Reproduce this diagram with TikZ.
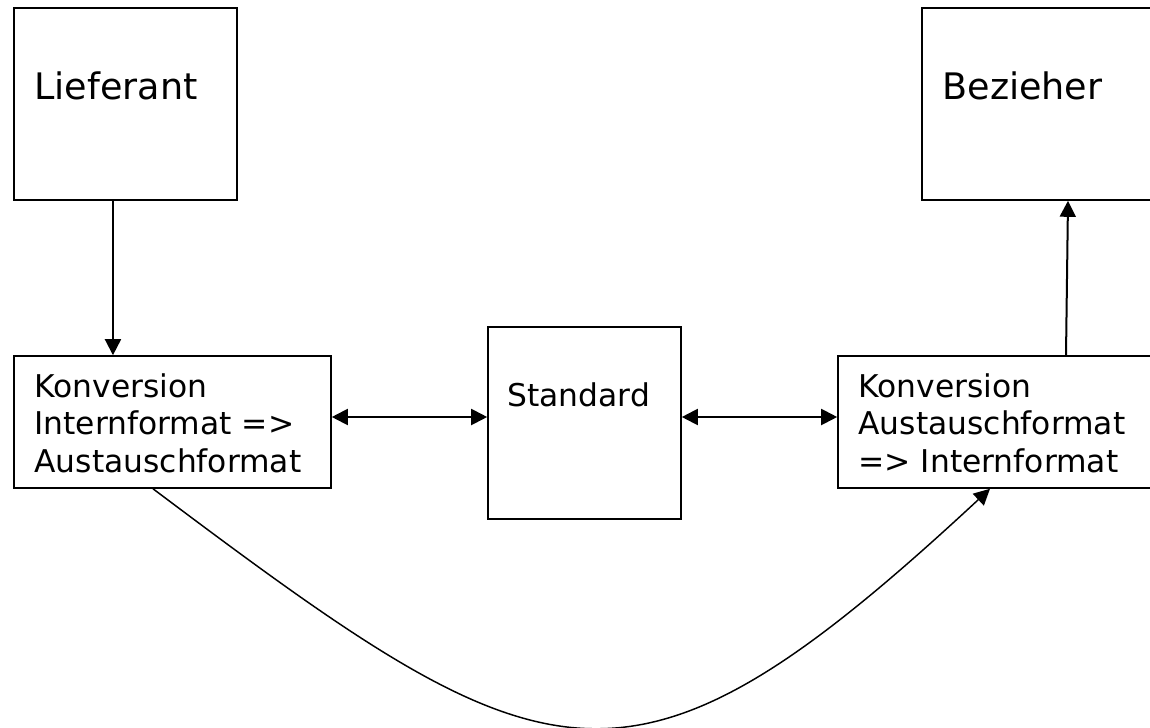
\documentclass[tikz,border=0pt]{standalone}
\usepackage{fontspec}
\setmainfont{DejaVu Sans}
\usetikzlibrary{arrows.meta,calc}

\begin{document}
\begin{tikzpicture}[x=0.75pt,y=-0.75pt,
	box/.style={draw, line width=1.2pt, inner sep=0pt},
	small/.style={inner sep=0pt, anchor=base west, align=left, font=\fontsize{23.5pt}{28pt}\selectfont},
	big/.style={inner sep=0pt, anchor=base west, font=\fontsize{27.4pt}{32pt}\selectfont},
	arr/.style={line width=1.5pt, -{Triangle[length=12pt,width=12pt]}},
	dbl/.style={line width=1.5pt, {Triangle[length=12pt,width=12pt]}-{Triangle[length=12pt,width=12pt]}},
	curve/.style={line width=1.1pt, -{Triangle[length=12pt,width=12pt]}}]

	% ---- frame

	\useasboundingbox (0,0) rectangle (1150,728);
	\clip (0,0) rectangle (1150,728);

	% ---- boxes

	\node[box, minimum width=167.25pt, minimum height=144pt] (lief) at (125.5,104) {};
	\node[box, minimum width=237.75pt, minimum height=99pt] (konvL) at (172.5,422) {};
	\node[box, minimum width=144.75pt, minimum height=144pt] (std) at (584.5,423) {};
	\node[box, minimum width=240pt, minimum height=99pt] (konvR) at (998,422) {};
	\node[box, minimum width=180pt, minimum height=144pt] (bez) at (1042,104) {};

	% ---- texts (multi-line nodes sit on the base of their last line)

	\node[big] (liefT) at ([shift={(21,92)}]lief.north west) {Lieferant};
	\node[big] (bezT) at ([shift={(21,92)}]bez.north west) {Bezieher};
	\node[small] (stdT) at ([shift={(20,80)}]std.north west) {Standard};
	\node[small] (konvLT) at ([shift={(21,117)}]konvL.north west) {Konversion\\Internformat =>\\Austauschformat};
	\node[small] (konvRT) at ([shift={(21,117)}]konvR.north west) {Konversion\\Austauschformat\\=> Internformat};

	% ---- arrows

	\draw[arr] ([xshift=-9.4pt]lief.south) -- ([xshift=-9.4pt]lief.south |- konvL.north);
	\draw[arr] ([xshift=51pt]konvR.north) -- ([xshift=52.5pt]konvR.north |- bez.south);

	\draw[dbl] ([yshift=3.75pt]konvL.east) -- ([yshift=3.75pt]konvL.east -| std.west);
	\draw[dbl] ([yshift=3.75pt]konvL.east -| std.east) -- ([yshift=3.75pt]konvL.east -| konvR.west);

	% ---- curve

	\draw[curve] ([xshift=-14.6pt]konvL.south) .. controls (550,787) and (627,826) .. ([xshift=-6pt]konvR.south);

\end{tikzpicture}
\end{document}
